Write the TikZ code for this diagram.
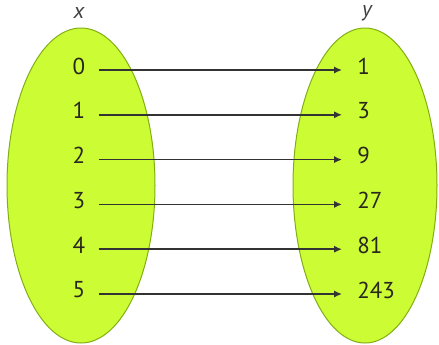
\documentclass[tikz,border=0pt]{standalone}
\usepackage{fontspec}
\setmainfont{PT Sans}
\usetikzlibrary{positioning,arrows.meta}
\definecolor{mapFill}{RGB}{204,252,52}
\definecolor{mapEdge}{RGB}{130,175,20}
\definecolor{mapInk}{RGB}{40,40,30}
\tikzset{
  map/set/.style={draw=mapEdge, fill=mapFill, line width=0.5pt},
  map/elem/.style={font=\fontsize{11.5}{12}\selectfont, text=mapInk, inner sep=1pt},
  map/var/.style={font=\fontsize{11}{12}\selectfont\itshape, text=black!75, inner sep=1pt},
  map/arrow/.style={-{Latex[length=4pt,width=3.6pt]}, line width=0.75pt, draw=black!80},
}
\begin{document}
\begin{tikzpicture}[x=0.5pt,y=-0.5pt]
  \useasboundingbox (0,0) rectangle (439,344);

  % ---------------- the two sets ----------------
  \draw[map/set] (81,185.5) ellipse [x radius=74, y radius=157.5];
  \draw[map/set] (365,185.5) ellipse [x radius=72, y radius=157.5];

  \node[map/var] (xlbl) at (79,13) {x};
  \node[map/var] (ylbl) at (367,13) {y};

  % ---------------- elements and mapping ----------------
  \foreach \i/\v [count=\k from 0] in {0/1,1/3,2/9,3/27,4/81,5/243} {
    \node[map/elem] (x\k) at (79,{66+44.8*\k}) {\i};
    \node[map/elem, anchor=west] (y\k) at (355,{66+44.8*\k}) {\v};
    \draw[map/arrow] ([xshift=5.5pt, yshift=-2pt]x\k.east)
      -- ([xshift=-6.5pt, yshift=-2pt]y\k.west);
  }

\end{tikzpicture}
\end{document}
